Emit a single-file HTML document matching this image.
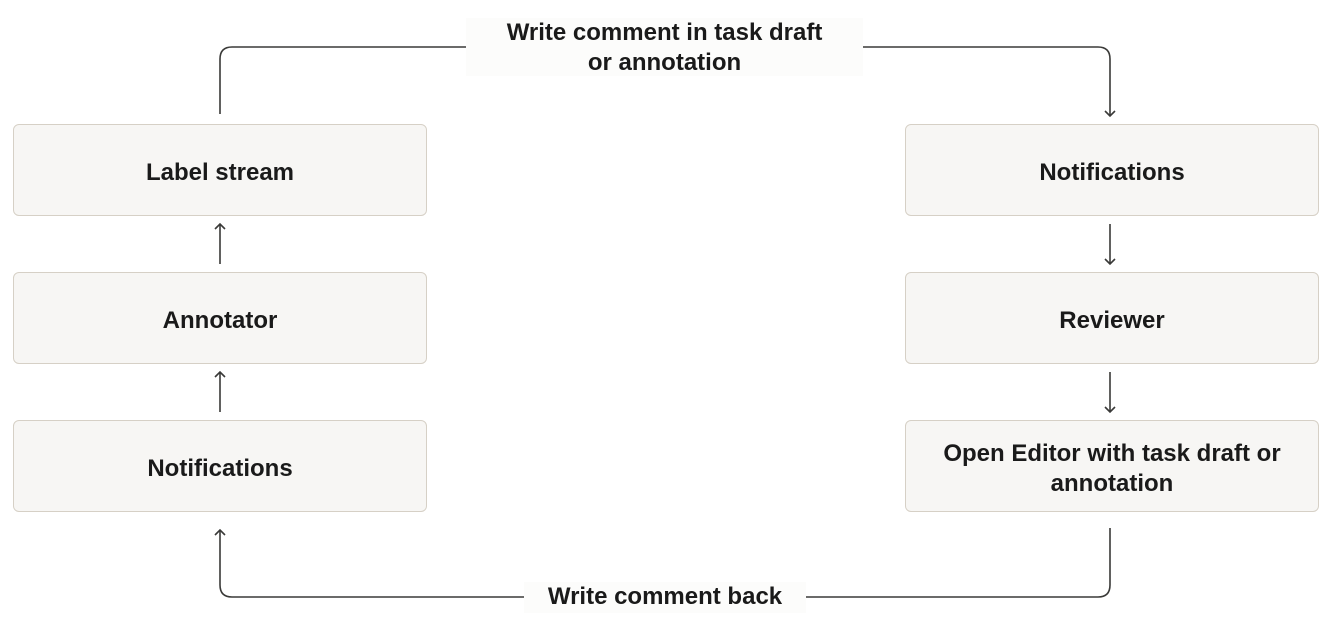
<!DOCTYPE html>
<html><head><style>
body{margin:0;background:#fff;width:1332px;height:627px;position:relative;font-family:"Liberation Sans",sans-serif;overflow:hidden}
.b{position:absolute;width:414px;height:92px;background:#f7f6f4;border:1px solid #d6d0c6;border-radius:6px;display:flex;align-items:center;justify-content:center;text-align:center;font-size:24px;font-weight:600;color:#1a1a1a;line-height:30px;box-sizing:border-box;padding-top:5px}
.l{position:absolute;background:#fcfcfb;font-size:24px;font-weight:600;color:#1a1a1a;text-align:center;line-height:30px}
</style></head><body>
<svg width="1332" height="627" style="position:absolute;left:0;top:0" fill="none" stroke="#3a3a38" stroke-width="1.6">
<path d="M220 114 V59 Q220 47 232 47 H1098 Q1110 47 1110 59 V116"/>
<path d="M1110 528 V585 Q1110 597 1098 597 H232 Q220 597 220 585 V530"/>
<path d="M1105 111 L1110 116 L1115 111"/>
<path d="M215 535 L220 530 L225 535"/>
<path d="M1110 224 V264 M1105 259 L1110 264 L1115 259"/>
<path d="M1110 372 V412 M1105 407 L1110 412 L1115 407"/>
<path d="M220 264 V224 M215 229 L220 224 L225 229"/>
<path d="M220 412 V372 M215 377 L220 372 L225 377"/>
</svg>
<div class="l" style="left:466px;top:18px;width:397px;height:58px">Write comment in task draft<br>or annotation</div>
<div class="l" style="left:524px;top:582px;width:282px;height:31px">Write comment back</div>
<div class="b" style="left:13px;top:124px">Label stream</div>
<div class="b" style="left:13px;top:272px">Annotator</div>
<div class="b" style="left:13px;top:420px">Notifications</div>
<div class="b" style="left:905px;top:124px">Notifications</div>
<div class="b" style="left:905px;top:272px">Reviewer</div>
<div class="b" style="left:905px;top:420px">Open Editor with task draft or<br>annotation</div>
</body></html>
